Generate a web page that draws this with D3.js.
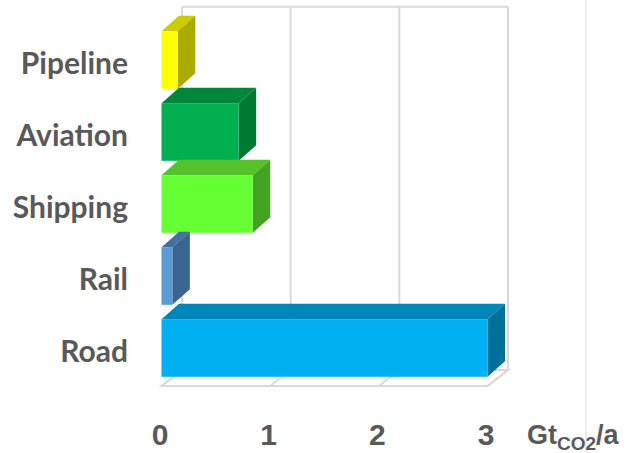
<!DOCTYPE html>
<html>
<head>
<meta charset="utf-8">
<script src="https://cdn.jsdelivr.net/npm/d3@7"></script>
<style>
  body { margin: 0; background: #fff; }
  svg { display: block; }
</style>
</head>
<body>
<div id="chart"></div>
<script>
// data (Gt CO2 per year)
var modes = ["Pipeline", "Aviation", "Shipping", "Rail", "Road"];
var emissions = [0.15, 0.71, 0.84, 0.10, 3.0];
var xTicks = [0, 1, 2, 3];
var frontColors = ["#ffff00", "#00b050", "#66ff33", "#5b9bd5", "#00b0f0"];
var topColors = ["#cccc00", "#00873c", "#55c12b", "#41719c", "#0086b8"];
var sideColors = ["#aaaa00", "#007a33", "#44a322", "#3a6590", "#006f99"];

function init(){
    var w = 626, h = 453;
    var wallDx = 20.5, wallDy = -16;   // depth of the chart box
    var barDx = 17.5, barDy = -15.5;   // depth of each bar
    var gridColor = "#d9d9d9";

    var svg = d3.select("#chart").append("svg")
        .attr("width", w).attr("height", h);

    var x = d3.scaleLinear().domain([0, 3]).range([161.5, 487.5]);
    var y = d3.scaleBand().domain(modes).range([24, 384])
        .paddingInner(0.2).paddingOuter(0.1);
    var floorY = 386;
    var topY = floorY - 363.3;

    // separator line on the right
    svg.append("line")
        .attr("x1", 586).attr("x2", 586).attr("y1", 0).attr("y2", h)
        .attr("stroke", "#d9d9d9").attr("stroke-width", 1);

    // back wall gridlines
    var g = svg.append("g").attr("fill", "none").attr("stroke", gridColor).attr("stroke-width", 2);
    g.append("line")
        .attr("x1", x(0) + wallDx).attr("x2", x(3) + wallDx)
        .attr("y1", topY + wallDy).attr("y2", topY + wallDy);
    g.selectAll(".vgrid").data(xTicks).enter().append("line")
        .attr("class", "vgrid")
        .attr("x1", function(d){ return x(d) + wallDx; })
        .attr("x2", function(d){ return x(d) + wallDx; })
        .attr("y1", topY + wallDy).attr("y2", floorY + wallDy);

    // floor
    g.append("path")
        .attr("d", "M" + x(0) + "," + floorY + "L" + x(3) + "," + floorY +
            "L" + (x(3) + wallDx) + "," + (floorY + wallDy) +
            "L" + (x(0) + wallDx) + "," + (floorY + wallDy) + "Z");
    g.selectAll(".fgrid").data(xTicks).enter().append("line")
        .attr("class", "fgrid")
        .attr("x1", function(d){ return x(d); })
        .attr("x2", function(d){ return x(d) + wallDx; })
        .attr("y1", floorY).attr("y2", floorY + wallDy);

    // 3d bars, drawn top to bottom so lower ones overlap
    var bars = svg.selectAll(".bar").data(modes).enter().append("g").attr("class", "bar");
    var bw = y.bandwidth();

    bars.append("path")
        .attr("fill", function(d, i){ return topColors[i]; })
        .attr("d", function(d, i){
            var x0 = x(0), x1 = x(emissions[i]), y0 = y(d);
            return "M" + x0 + "," + y0 + "L" + x1 + "," + y0 +
                "L" + (x1 + barDx) + "," + (y0 + barDy) +
                "L" + (x0 + barDx) + "," + (y0 + barDy) + "Z";
        });
    bars.append("path")
        .attr("fill", function(d, i){ return sideColors[i]; })
        .attr("d", function(d, i){
            var x1 = x(emissions[i]), y0 = y(d);
            return "M" + x1 + "," + y0 + "L" + (x1 + barDx) + "," + (y0 + barDy) +
                "L" + (x1 + barDx) + "," + (y0 + bw + barDy) +
                "L" + x1 + "," + (y0 + bw) + "Z";
        });
    bars.append("rect")
        .attr("x", x(0))
        .attr("y", function(d){ return y(d); })
        .attr("width", function(d, i){ return x(emissions[i]) - x(0); })
        .attr("height", bw)
        .attr("fill", function(d, i){ return frontColors[i]; });

    // category labels
    svg.selectAll(".cat").data(modes).enter().append("text")
        .attr("class", "cat")
        .attr("x", 128)
        .attr("y", function(d){ return y(d) + bw / 2 + 13.5; })
        .attr("text-anchor", "end")
        .attr("font-family", "Lato, sans-serif")
        .attr("font-weight", "bold")
        .attr("font-size", "30px")
        .attr("fill", "#595959")
        .text(function(d){ return d; });

    // x axis labels
    var xAxis = d3.axisBottom(x).tickValues(xTicks).tickSize(0).tickPadding(0)
        .tickFormat(d3.format("d"));
    var ax = svg.append("g").attr("transform", "translate(-2,424)").call(xAxis);
    ax.select(".domain").remove();
    ax.selectAll("text")
        .attr("dy", "0.71em")
        .attr("font-family", "'Liberation Sans', Arial, sans-serif")
        .attr("font-weight", "bold")
        .attr("font-size", "30px")
        .attr("fill", "#595959");

    // unit label
    var unit = svg.append("text")
        .attr("x", 527).attr("y", 444)
        .attr("font-family", "'Liberation Sans', Arial, sans-serif")
        .attr("font-weight", "bold")
        .attr("font-size", "27px")
        .attr("fill", "#595959");
    unit.append("tspan").text("Gt");
    unit.append("tspan").attr("font-size", "19px").attr("dy", 6).text("CO2");
    unit.append("tspan").attr("dy", -6).text("/a");
}
window.onload = init;
</script>
</body>
</html>
